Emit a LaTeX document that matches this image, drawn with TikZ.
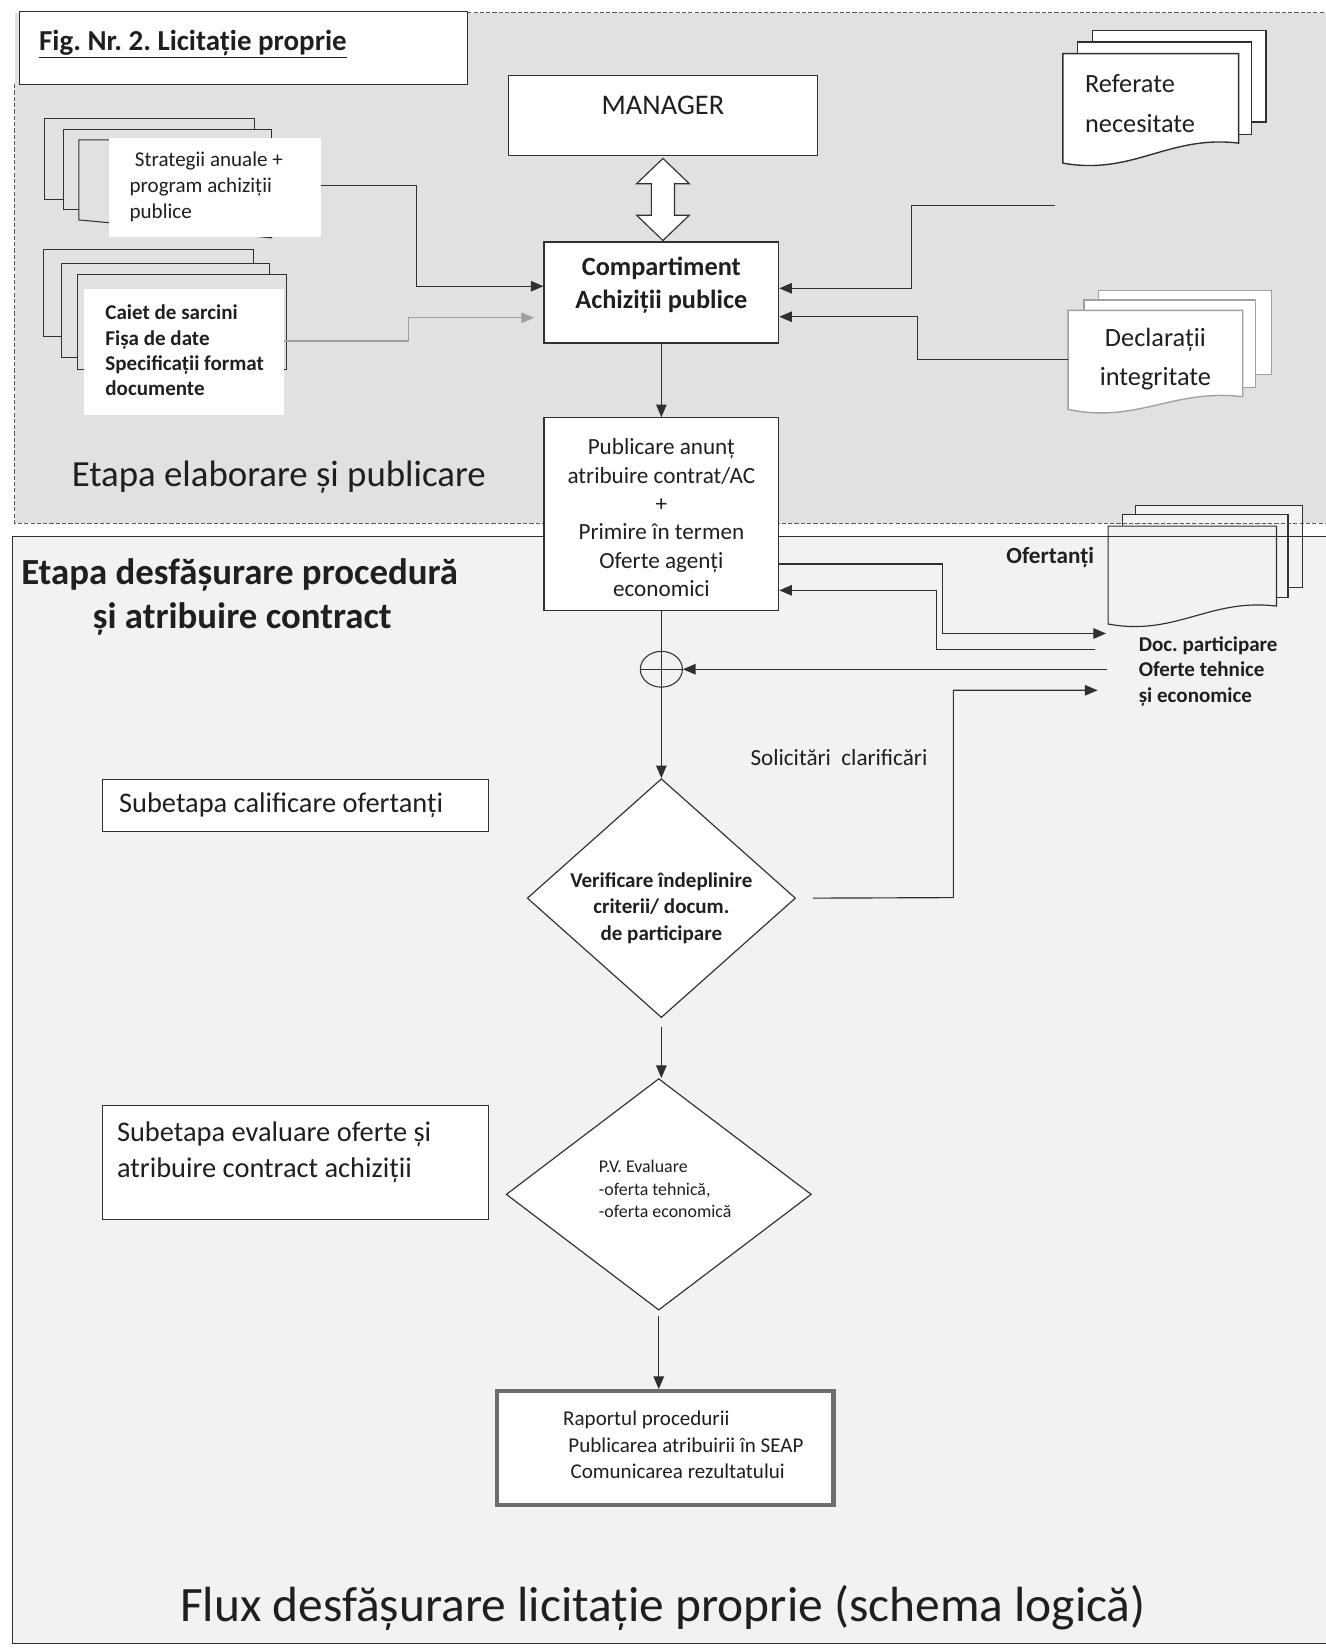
\documentclass[tikz,border=0pt]{standalone}
\usepackage{fontspec}
\setmainfont{Carlito}
\usetikzlibrary{arrows.meta,calc,shapes.geometric}
\definecolor{topbg}{HTML}{E1E1E1}
\definecolor{lowbg}{HTML}{F2F2F2}
\definecolor{ln}{HTML}{303030}
\definecolor{declc}{HTML}{A0A0A0}
\definecolor{finc}{HTML}{6E6E6E}
\newcommand\fsz[2]{\fontsize{#1pt}{#2pt}\selectfont}
\frenchspacing
\begin{document}
\begin{tikzpicture}[x=1pt,y=-1pt,
  line/.style={draw=ln,line width=1.1pt},
  arr/.style={draw=ln,line width=1.1pt,-{Triangle[length=12pt,width=10pt]}},
  garr/.style={draw=gray!75,line width=1.1pt,-{Triangle[length=12pt,width=10pt]}},
  box/.style={draw=ln,line width=1.1pt,fill=white,inner sep=0pt},
  wbox/.style={fill=white,inner sep=0pt},
  txt/.style={inner sep=0pt,text=black!88},
  stk/.style={draw=ln,line width=1pt,fill=topbg},
  docl/.style={draw=ln,line width=1.3pt,fill=white},
  docd/.style={draw=declc,line width=1.3pt,fill=white},
  doco/.style={draw=ln,line width=1.1pt,fill=lowbg},
  dashb/.style={draw=gray!70!black,line width=0.8pt,dash pattern=on 4pt off 2pt}
]
\useasboundingbox (0,0) rectangle (1260,1568);
\fill[white] (0,0) rectangle (1260,1568);
\fill[topbg] (14,12) rectangle (1260,497);
\fill[lowbg] (12,510) rectangle (1260,1562);

% Ofertanti document stack
\draw[doco] (1079,480) rectangle (1238,558);
\draw[doco] (1067,489) rectangle (1224,568);
\draw[doco] (1053,500) -- (1213,500) -- (1213,576) .. controls (1150,568) and (1117,605) .. (1053,593) -- cycle;

% region borders
\draw[dashb] (444,12) -- (1260,12);
\draw[dashb] (14,80) -- (14,497) -- (1260,497);
\draw[draw=ln,line width=1.2pt] (1260,510) -- (12,510) -- (12,1562) -- (1260,1562);

% title
\node[box, minimum width=426pt, minimum height=70pt, anchor=north west] (titlebox) at (18,10) {};
\node[txt, anchor=base west, font=\bfseries\fsz{27.5}{32}] (titletxt) at (37,48) {\underline{Fig. Nr. 2. Licitație proprie}};

% left stacks
\draw[stk] (42,113) rectangle (242,190);
\draw[stk] (60,123) rectangle (258,199);
\draw[stk] (75,133) -- (258,133) -- (258,226) -- (75,209) -- cycle;
\node[wbox, minimum width=201pt, minimum height=94pt] (strat) at (204.5,178) {};
\node[txt, anchor=west, align=left, font=\fsz{20}{24.5}] (strattxt) at (123,177.5) {\hspace*{5pt}Strategii anuale +\\program achiziții\\publice};

\draw[stk] (41,237) rectangle (241,320);
\draw[stk] (58,250) rectangle (256,340);
\draw[stk] (74,261) rectangle (272,351);
\node[wbox, minimum width=190pt, minimum height=119pt] (caiet) at (175,334.5) {};
\node[txt, anchor=west, align=left, font=\bfseries\fsz{20}{24}] (caiettxt) at (100,333) {Caiet de sarcini\\Fișa de date\\Specificații format\\documente};

% right stacks
\draw[docl] (1038,29) rectangle (1203,116);
\draw[docl] (1024,40) rectangle (1189,128);
\draw[docl] (1010,51) -- (1177,51) -- (1177,136) .. controls (1110,128) and (1077,167) .. (1010,155) -- cycle;
\node[txt, anchor=west, align=left, font=\fsz{25}{38}] (reft) at (1031,98) {Referate\\necesitate};

\draw[docd] (1044,276) rectangle (1208,356);
\draw[docd] (1030,285) rectangle (1193,368);
\draw[docd] (1015,295) -- (1181,295) -- (1181,377) .. controls (1115,369) and (1080,403) .. (1015,389) -- cycle;
\node[txt, align=center, font=\fsz{25}{37}] (declt) at (1098,341.5) {Declarații\\integritate};

% main boxes
\node[box, minimum width=294pt, minimum height=76pt] (mgr) at (630,110) {};
\node[txt, font=\fsz{27}{32}] (mgrt) at (630,100) {MANAGER};
\node[box, minimum width=223pt, minimum height=96pt] (cmp) at (628.5,278) {};
\node[txt, align=center, font=\bfseries\fsz{25}{31}] (cmpt) at (628.5,271) {Compartiment\\Achiziții publice};
\node[box, minimum width=223pt, minimum height=183pt] (pub) at (628.5,488.5) {};
\node[txt, align=center, font=\fsz{22}{27}] (pubt) at (628.5,492) {Publicare anunț\\atribuire contrat/AC\\+\\Primire în termen\\Oferte agenți\\economici};

% hollow double arrow
\draw[line, fill=white] ($(mgr.south)+(0,2)$) -- ++(25,24) -- ++(-14,0) -- ++(0,30) -- ++(14,0) -- ++(-25,24) -- ++(-25,-24) -- ++(14,0) -- ++(0,-30) -- ++(-14,0) -- cycle;

% diamonds
\node[diamond, draw=ln, line width=1.1pt, fill=white, inner sep=0pt, minimum width=255pt, minimum height=227pt] (d1) at (628.5,853.5) {};
\node[txt, align=center, font=\bfseries\fsz{20}{25}] (d1t) at (628.5,863) {Verificare îndeplinire\\criterii/ docum.\\de participare};
\node[diamond, draw=ln, line width=1.1pt, fill=white, inner sep=0pt, minimum width=290pt, minimum height=220pt] (d2) at (626,1135) {};
\node[txt, anchor=west, align=left, font=\fsz{17}{21.5}] (d2t) at (569,1130) {P.V. Evaluare\\-oferta tehnică,\\-oferta economică};

% final box
\node[draw=finc, line width=4pt, fill=white, inner sep=0pt, minimum width=320pt, minimum height=108pt] (fin) at (632,1376) {};
\node[txt, anchor=west, align=left, font=\fsz{20}{25}] (fint) at (535,1373) {Raportul procedurii\\\hspace*{5pt}Publicarea atribuirii în SEAP\\\hspace*{7pt}Comunicarea rezultatului};

% subetapa boxes
\node[box, minimum width=367pt, minimum height=50pt, anchor=north west] (sub1) at (97,740) {};
\node[txt, anchor=west, font=\fsz{27}{33}] (sub1t) at (113,765) {Subetapa calificare ofertanți};
\node[box, minimum width=367pt, minimum height=108pt, anchor=north west] (sub2) at (97,1050) {};
\node[txt, anchor=west, align=left, font=\fsz{27}{34}] (sub2t) at (111,1095) {Subetapa evaluare oferte și\\atribuire contract achiziții};

% stage labels
\node[txt, anchor=west, font=\fsz{35}{42}] (et1) at (68,453) {Etapa elaborare și publicare};
\node[txt, anchor=west, font=\bfseries\fsz{35}{42}] (et2a) at (20,546) {Etapa desfășurare procedură};
\node[txt, anchor=west, font=\bfseries\fsz{35}{42}] (et2b) at (88,588) {și atribuire contract};
\node[txt, font=\fsz{47}{56}] (flux) at (630,1528) {Flux desfășurare licitație proprie (schema logică)};

% other labels
\node[txt, font=\bfseries\fsz{22}{26}] (oft) at (998,530) {Ofertanți};
\node[txt, anchor=west, align=left, font=\bfseries\fsz{20}{24}] (doct) at (1082,638) {Doc. participare\\Oferte tehnice\\și economice};
\node[txt, anchor=west, font=\fsz{22}{26}] (sol) at (713,720) {Solicitări\ \ clarificări};

% circle junction
\coordinate (crcc) at (628.5,636);
\draw[arr] (pub.south) -- (d1.north);
\node[ellipse, draw=ln, line width=1pt, minimum width=40pt, minimum height=34pt, inner sep=0pt] (crc) at (crcc) {};
\draw[line] (crc.west) -- (crc.east);

% main flow
\draw[arr] (cmp.south) -- (pub.north);
\draw[arr] ([yshift=-8pt]d1.south) -- (d1.south |- d2.north);
\draw[arr] ([yshift=-5pt]d2.south) -- (d2.south |- fin.north);

% left connectors
\coordinate (b1) at (396,176);
\draw[arr] (b1 -| strat.east) -- (b1) |- ([yshift=6pt]cmp.west);
\coordinate (b2) at (388,324);
\draw[garr] (b2 -| caiet.east) -- (b2) |- ([xshift=-9pt,yshift=-24pt]cmp.west);

% right connectors
\coordinate (refline) at (1003,195);
\coordinate (b3) at (866,195);
\draw[arr] (refline) -- (b3) |- ([yshift=4pt]cmp.east);
\coordinate (declin) at (1015,342);
\coordinate (b4) at (872,342);
\draw[arr] (declin) -- (b4) |- ([yshift=-23pt]cmp.east);

\coordinate (b5) at (896,536);
\coordinate (oftgt) at (1051,602);
\draw[arr] (b5 -| pub.east) -- (b5) |- (oftgt);
\coordinate (b6) at (890,617);
\coordinate (ofsrc) at (1041,617);
\draw[arr] (ofsrc) -- (b6) |- ([yshift=-72.5pt]pub.east);
\coordinate (ofsrc2) at (1052,636);
\draw[arr] (ofsrc2) -- (crc.east);
\coordinate (b7) at (906,853);
\coordinate (soltgt) at (1043,656);
\draw[arr] ([xshift=16pt]d1.east) -- (b7) |- (soltgt);
\end{tikzpicture}
\end{document}
